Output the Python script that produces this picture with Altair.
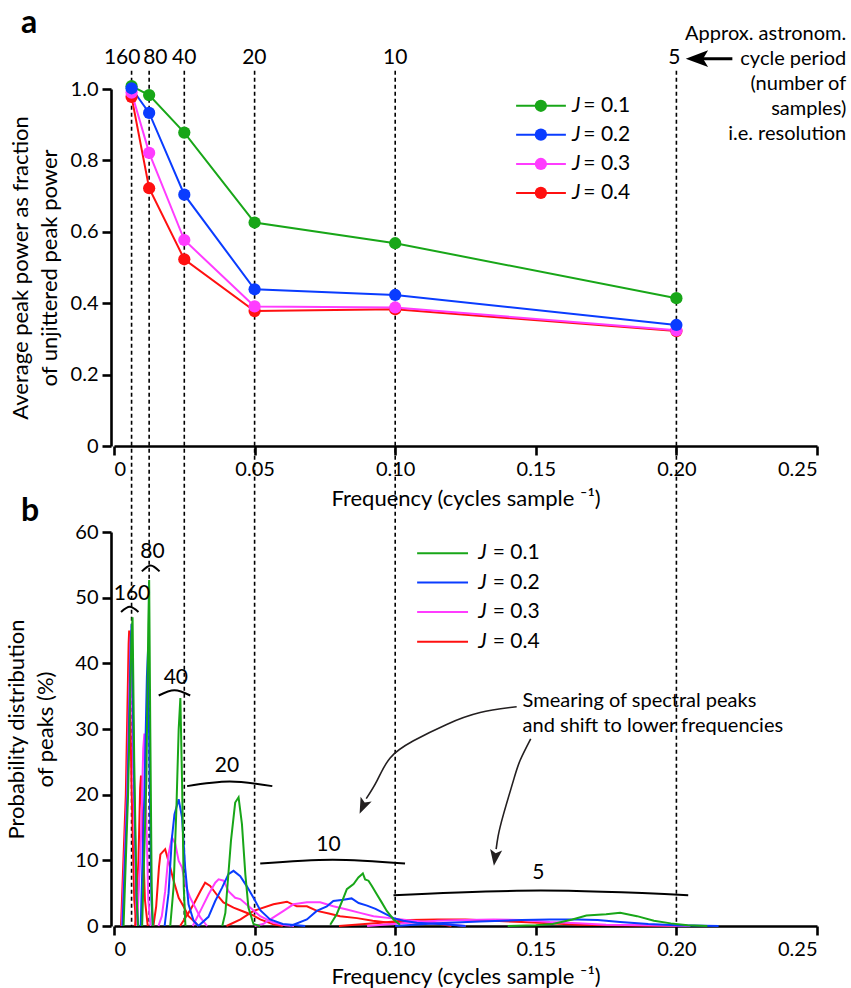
import altair as alt
import pandas as pd

FONT = "Lato"

# ---------------- shared categories ----------------
J_NAMES = ["J = 0.1", "J = 0.2", "J = 0.3", "J = 0.4"]
J_RHS = ["= 0.1", "= 0.2", "= 0.3", "= 0.4"]
J_COLORS = ["#18a618", "#0a3cff", "#ff3cff", "#ff1010"]

# ---------------- panel a data ----------------
FREQS = [0.00625, 0.0125, 0.025, 0.05, 0.10, 0.20]
PERIODS = ["160", "80", "40", "20", "10", "5"]
PERIOD_LABEL_X = [0.0029, 0.0147, 0.0250, 0.0499, 0.1000, 0.1993]
POWER_J1 = [1.008, 0.983, 0.878, 0.626, 0.568, 0.414]
POWER_J2 = [1.002, 0.933, 0.704, 0.439, 0.423, 0.339]
POWER_J3 = [0.990, 0.821, 0.577, 0.391, 0.388, 0.324]
POWER_J4 = [0.978, 0.722, 0.523, 0.378, 0.383, 0.322]

# ---------------- panel b data (one hump per J and period) ----------------
G160_F = [0.0034, 0.0050, 0.0062, 0.0066, 0.0072, 0.0080, 0.0085]
G160_Y = [0, 20, 44, 47, 25, 5, 0]
G80_F = [0.0100, 0.0115, 0.0122, 0.0125, 0.0129, 0.0134, 0.0138]
G80_Y = [0, 22, 46, 52.7, 30, 6, 0]
G40_F = [0.0200, 0.0212, 0.0222, 0.0230, 0.0236, 0.0242, 0.0248, 0.0254]
G40_Y = [0, 6, 18, 30, 34.7, 22, 6, 0]
G20_F = [0.0385, 0.0396, 0.0404, 0.0416, 0.0431, 0.0443, 0.0455, 0.0467, 0.0478, 0.0496, 0.0520]
G20_Y = [0, 2, 6.4, 13.0, 18.8, 19.6, 15.5, 7.9, 2.8, 0.3, 0]
G10_F = [0.0769, 0.0792, 0.0816, 0.0828, 0.0852, 0.0869, 0.0885, 0.0893, 0.0905, 0.0917, 0.0935, 0.0952, 0.0970, 0.0994, 0.1017]
G10_Y = [0.2, 1.8, 4.3, 5.6, 6.4, 7.4, 8.0, 7.1, 6.9, 6.1, 4.8, 3.6, 2.3, 1.0, 0.2]
G5_F = [0.140, 0.150, 0.156, 0.163, 0.168, 0.175, 0.180, 0.186, 0.192, 0.198, 0.204, 0.211]
G5_Y = [0, 0.1, 0.3, 1.0, 1.6, 1.8, 2.0, 1.5, 0.8, 0.4, 0.1, 0]

B160_F = [0.0030, 0.0048, 0.0060, 0.0063, 0.0070, 0.0080, 0.0086]
B160_Y = [0, 20, 44, 46, 25, 4, 0]
B80_F = [0.0095, 0.0108, 0.0117, 0.0121, 0.0127, 0.0133, 0.0138]
B80_Y = [0, 20, 38, 42, 22, 4, 0]
B40_F = [0.0180, 0.0194, 0.0206, 0.0215, 0.0230, 0.0242, 0.0253, 0.0265, 0.0283, 0.0300]
B40_Y = [0, 5, 13.4, 17, 19.3, 16.5, 8.9, 3.3, 0.8, 0]
B20_F = [0.0300, 0.0336, 0.0360, 0.0384, 0.0407, 0.0425, 0.0449, 0.0473, 0.0496, 0.0520, 0.0555, 0.0600, 0.0650, 0.0680]
B20_Y = [0, 1.4, 3.8, 5.8, 7.9, 8.4, 7.6, 6.0, 4.3, 2.4, 1.0, 0.3, 0.1, 0]
B10_F = [0.0627, 0.0686, 0.0721, 0.0757, 0.0780, 0.0816, 0.0845, 0.0870, 0.0900, 0.0930, 0.0958, 0.0994, 0.1029, 0.1077, 0.1160, 0.1250]
B10_Y = [0, 1.0, 2.3, 3.0, 3.8, 4.0, 4.2, 3.5, 3.1, 2.6, 2.0, 1.2, 0.8, 0.5, 0.3, 0]
B5_F = [0.100, 0.115, 0.130, 0.145, 0.155, 0.165, 0.172, 0.180, 0.190, 0.200, 0.215]
B5_Y = [0, 0.4, 0.7, 0.9, 1.0, 1.0, 0.9, 0.6, 0.3, 0.1, 0]

M160_F = [0.0028, 0.0046, 0.0058, 0.0061, 0.0068, 0.0078, 0.0084]
M160_Y = [0, 20, 43, 45, 24, 4, 0]
M80_F = [0.0082, 0.0095, 0.0104, 0.0108, 0.0114, 0.0122, 0.0130]
M80_Y = [0, 12, 27, 29.3, 18, 4, 0]
M40_F = [0.0158, 0.0170, 0.0182, 0.0194, 0.0206, 0.0218, 0.0230, 0.0242, 0.0253, 0.0271, 0.0289, 0.0307, 0.0331]
M40_Y = [0, 1.5, 5.3, 10.9, 13.5, 12.5, 9.9, 8.9, 6.4, 4.3, 2.8, 1.3, 0]
M20_F = [0.0280, 0.0313, 0.0336, 0.0360, 0.0372, 0.0390, 0.0407, 0.0431, 0.0449, 0.0484, 0.0520, 0.0567, 0.0610, 0.0640]
M20_Y = [0, 2.8, 4.8, 6.6, 7.1, 6.9, 5.3, 4.3, 4.1, 2.8, 1.5, 0.5, 0.1, 0]
M10_F = [0.0500, 0.0530, 0.0567, 0.0603, 0.0638, 0.0686, 0.0733, 0.0780, 0.0828, 0.0875, 0.0923, 0.0982, 0.1040, 0.1160, 0.1250]
M10_Y = [0, 0.3, 1.3, 2.3, 3.3, 3.6, 3.6, 3.0, 2.5, 2.0, 1.5, 1.2, 0.9, 0.4, 0]
M5_F = [0.090, 0.105, 0.115, 0.125, 0.135, 0.145, 0.155, 0.165, 0.175, 0.190, 0.205]
M5_Y = [0, 0.5, 0.8, 0.9, 1.0, 0.9, 0.6, 0.4, 0.2, 0.1, 0]

R160_F = [0.0025, 0.0042, 0.0052, 0.0054, 0.0062, 0.0072, 0.0080]
R160_Y = [0, 20, 43, 45, 22, 4, 0]
R80_F = [0.0075, 0.0087, 0.0093, 0.0096, 0.0102, 0.0110, 0.0120]
R80_Y = [0, 10, 21, 22.9, 14, 4, 0]
R40_F = [0.0140, 0.0150, 0.0160, 0.0165, 0.0182, 0.0200, 0.0212, 0.0230, 0.0247, 0.0265, 0.0283, 0.0300]
R40_Y = [0, 3, 9.0, 10.9, 11.7, 8.9, 6.9, 4.3, 3.0, 1.5, 0.8, 0]
R20_F = [0.0235, 0.0247, 0.0265, 0.0283, 0.0307, 0.0324, 0.0342, 0.0365, 0.0389, 0.0425, 0.0460, 0.0496, 0.0520, 0.0567, 0.0600]
R20_Y = [0, 0.8, 2.0, 3.3, 5.3, 6.6, 6.1, 4.8, 3.6, 2.8, 2.2, 1.6, 1.0, 0.25, 0]
R10_F = [0.0400, 0.0450, 0.0496, 0.0567, 0.0615, 0.0650, 0.0686, 0.0722, 0.0764, 0.0804, 0.0864, 0.0920, 0.0980, 0.1040, 0.1100, 0.1160, 0.1200]
R10_Y = [0, 1.0, 2.3, 3.3, 3.7, 3.0, 3.0, 2.3, 1.9, 1.5, 1.2, 0.8, 0.5, 0.6, 0.5, 0.3, 0]
R5_F = [0.080, 0.095, 0.105, 0.115, 0.125, 0.135, 0.145, 0.155, 0.165, 0.180, 0.200]
R5_Y = [0, 0.5, 0.9, 1.0, 1.0, 0.8, 0.6, 0.4, 0.2, 0.1, 0]

# ---------------- annotations ----------------
BRACKET_LABELS = ["160", "80", "40", "20", "10", "5"]
BRACKET_LEFT = [0.0025, 0.0099, 0.0159, 0.0260, 0.0520, 0.0994]
BRACKET_RIGHT = [0.0087, 0.0162, 0.0271, 0.0563, 0.1035, 0.2042]
BRACKET_END_Y = [47.8, 54.0, 35.1, 21.3, 9.5, 4.7]
BRACKET_MID_Y = [48.6, 54.9, 35.9, 22.0, 10.1, 5.4]
BRACKET_TEXT_X = [0.0064, 0.0137, 0.0220, 0.0402, 0.0763, 0.1509]
BRACKET_TEXT_Y = [50.5, 56.9, 37.8, 24.3, 12.4, 8.1]

ANNOT_A_LINES = ["Approx. astronom.", "cycle period", "(number of", "samples)", "i.e. resolution"]
ANNOT_A_Y = [1.155, 1.085, 1.015, 0.945, 0.875]
ANNOT_A_X = 0.2604
ARROW_A_X = [0.2080, 0.2199]
ARROW_A_Y = 1.085
ARROW_A_HEAD_X = 0.2073

SMEAR_LINES = ["Smearing of spectral peaks", "and shift to lower frequencies"]
SMEAR_Y = [34.2, 30.5]
SMEAR_X = 0.1453
ARROW1_F = [0.1432, 0.1302, 0.1183, 0.1065, 0.0982, 0.0935, 0.0897]
ARROW1_Y = [33.4, 32.5, 30.7, 28.2, 25.6, 22.1, 19.4]
ARROW2_F = [0.1482, 0.1444, 0.1420, 0.1385, 0.1366, 0.1359]
ARROW2_Y = [28.5, 25.2, 22.1, 17.0, 13.7, 11.7]
HEAD_F = [0.0885, 0.1355]
HEAD_Y = [18.2, 10.4]
HEAD_ANGLE = [24, 8]

LEG_A_Y = [0.953, 0.872, 0.790, 0.709]
LEG_A_X = [0.1430, 0.1607, 0.1518, 0.1629, 0.1669]  # line start, line end, dot, "J", "= v"
LEG_B_Y = [56.75, 52.3, 47.8, 43.3]
LEG_B_X = [0.1078, 0.1259, 0.1295, 0.1347]

# ---------------- layout ----------------
W = 703
HA = 357
HB = 394
GAP = 86

color_scale = alt.Scale(domain=J_NAMES, range=J_COLORS)
xscale = alt.Scale(domain=[0, 0.25], nice=False, zero=False)
x_labels = "datum.value == 0 ? '0' : format(datum.value, '.2f')"
x_title = "Frequency (cycles sample \u207b\u00b9)"

xaxis_a = alt.Axis(values=[0, 0.05, 0.10, 0.15, 0.20, 0.25], labelExpr=x_labels,
                   title=x_title, titlePadding=9)
xaxis_b = alt.Axis(values=[0, 0.05, 0.10, 0.15, 0.20, 0.25], labelExpr=x_labels,
                   title=x_title, titlePadding=7)


def XA(field):
    return alt.X(field, type="quantitative", scale=xscale, axis=xaxis_a)


def XB(field):
    return alt.X(field, type="quantitative", scale=xscale, axis=xaxis_b)


def COL():
    return alt.Color("J:N", scale=color_scale, legend=None)


# ----- panel a -----
ya_scale = alt.Scale(domain=[0, 1], nice=False, zero=False)
ya_axis = alt.Axis(values=[0, 0.2, 0.4, 0.6, 0.8, 1.0],
                   labelExpr="datum.value == 0 ? '0' : format(datum.value, '.1f')",
                   title=["Average peak power as fraction", "of unjittered peak power"],
                   titlePadding=9, titleLineHeight=29, offset=3)


def YA(field):
    return alt.Y(field, type="quantitative", scale=ya_scale, axis=ya_axis)


rows = []
for name, vals in zip(J_NAMES, [POWER_J1, POWER_J2, POWER_J3, POWER_J4]):
    for f, v in zip(FREQS, vals):
        rows.append({"f": f, "v": v, "J": name})
df_a = pd.DataFrame(rows)
draw_order = ["J = 0.1", "J = 0.4", "J = 0.3", "J = 0.2"]
df_a["k"] = df_a["J"].map({n: i for i, n in enumerate(draw_order)})
df_a = df_a.sort_values(["k", "f"])

df_rules = pd.DataFrame({"f": FREQS, "p": PERIODS, "lx": PERIOD_LABEL_X,
                         "ytop": 1.051, "ylab": 1.088})

rules = alt.Chart(df_rules).mark_rule(color="black", strokeWidth=1.6, strokeDash=[4, 3]).encode(
    x=XA("f"), y=YA("ytop"), y2=alt.value(HA + GAP + HB))
top_labels = alt.Chart(df_rules).mark_text(font=FONT, fontSize=21, baseline="middle", color="black").encode(
    x=XA("lx"), y=YA("ylab"), text="p:N")

lines_a = alt.Chart(df_a).mark_line(strokeWidth=2).encode(x=XA("f"), y=YA("v"), color=COL())
pts_a = alt.Chart(df_a).mark_circle(size=150, opacity=1).encode(x=XA("f"), y=YA("v"), color=COL())

leg_a = pd.DataFrame({"J": J_NAMES, "rhs": J_RHS, "y": LEG_A_Y,
                      "x1": LEG_A_X[0], "x2": LEG_A_X[1], "xd": LEG_A_X[2],
                      "xj": LEG_A_X[3], "xr": LEG_A_X[4], "jt": "J"})
leg_a_line = alt.Chart(leg_a).mark_rule(strokeWidth=2).encode(
    x=XA("x1"), x2="x2", y=YA("y"), color=COL())
leg_a_dot = alt.Chart(leg_a).mark_circle(size=150, opacity=1).encode(
    x=XA("xd"), y=YA("y"), color=COL())
leg_a_j = alt.Chart(leg_a).mark_text(font=FONT, fontSize=21, fontStyle="italic", align="left",
                                     baseline="middle", color="black").encode(
    x=XA("xj"), y=YA("y"), text="jt:N")
leg_a_r = alt.Chart(leg_a).mark_text(font=FONT, fontSize=21, align="left",
                                     baseline="middle", color="black").encode(
    x=XA("xr"), y=YA("y"), text="rhs:N")

annot_a = alt.Chart(pd.DataFrame({"t": ANNOT_A_LINES, "y": ANNOT_A_Y, "x": ANNOT_A_X})).mark_text(
    font=FONT, fontSize=20, align="right", baseline="middle", color="black").encode(
    x=XA("x"), y=YA("y"), text="t:N")
arrow_a = alt.Chart(pd.DataFrame({"x1": [ARROW_A_X[0]], "x2": [ARROW_A_X[1]], "y": [ARROW_A_Y]})).mark_rule(
    color="black", strokeWidth=3).encode(x=XA("x1"), x2="x2", y=YA("y"))
arrow_a_head = alt.Chart(pd.DataFrame({"x": [ARROW_A_HEAD_X], "y": [ARROW_A_Y]})).mark_point(
    shape="M-1,0L1,-0.75L0.55,0L1,0.75Z", filled=True, size=500, color="black", opacity=1).encode(
    x=XA("x"), y=YA("y"))
letter_a = alt.Chart(pd.DataFrame({"t": ["a"]})).mark_text(
    font=FONT, fontSize=32, fontWeight="bold", align="left", baseline="alphabetic", color="black").encode(
    x=alt.value(-93), y=alt.value(-56.5), text="t:N")

panel_a = alt.layer(rules, lines_a, pts_a, top_labels, leg_a_line, leg_a_dot, leg_a_j, leg_a_r,
                    annot_a, arrow_a, arrow_a_head, letter_a).properties(width=W, height=HA)

# ----- panel b -----
yb_scale = alt.Scale(domain=[0, 60], nice=False, zero=False)
yb_axis = alt.Axis(values=[0, 10, 20, 30, 40, 50, 60], title=["Probability distribution", "of peaks (%)"],
                   titlePadding=17, titleLineHeight=29, offset=3)


def YB(field):
    return alt.Y(field, type="quantitative", scale=yb_scale, axis=yb_axis)


humps = [
    ("J = 0.4", [(R160_F, R160_Y), (R80_F, R80_Y), (R40_F, R40_Y), (R20_F, R20_Y), (R10_F, R10_Y), (R5_F, R5_Y)]),
    ("J = 0.3", [(M160_F, M160_Y), (M80_F, M80_Y), (M40_F, M40_Y), (M20_F, M20_Y), (M10_F, M10_Y), (M5_F, M5_Y)]),
    ("J = 0.2", [(B160_F, B160_Y), (B80_F, B80_Y), (B40_F, B40_Y), (B20_F, B20_Y), (B10_F, B10_Y), (B5_F, B5_Y)]),
    ("J = 0.1", [(G160_F, G160_Y), (G80_F, G80_Y), (G40_F, G40_Y), (G20_F, G20_Y), (G10_F, G10_Y), (G5_F, G5_Y)]),
]
rows = []
for name, hl in humps:
    for p, (fs, ys) in zip(PERIODS, hl):
        for i, (f, y) in enumerate(zip(fs, ys)):
            rows.append({"f": f, "y": y, "J": name, "key": name + "_" + p, "i": i})
df_b = pd.DataFrame(rows)

lines_b = alt.Chart(df_b).mark_line(strokeWidth=2).encode(
    x=XB("f"), y=YB("y"), color=COL(), detail="key:N", order="i:Q")

brows = []
for lab, l, r, ye, ym in zip(BRACKET_LABELS, BRACKET_LEFT, BRACKET_RIGHT, BRACKET_END_Y, BRACKET_MID_Y):
    brows.append({"b": lab, "f": l, "y": ye, "i": 0})
    brows.append({"b": lab, "f": (l + r) / 2, "y": ym, "i": 1})
    brows.append({"b": lab, "f": r, "y": ye, "i": 2})
brackets = alt.Chart(pd.DataFrame(brows)).mark_line(color="black", strokeWidth=2, interpolate="natural").encode(
    x=XB("f"), y=YB("y"), detail="b:N", order="i:Q")
bracket_text = alt.Chart(pd.DataFrame({"t": BRACKET_LABELS, "f": BRACKET_TEXT_X, "y": BRACKET_TEXT_Y})).mark_text(
    font=FONT, fontSize=21, baseline="middle", color="black").encode(x=XB("f"), y=YB("y"), text="t:N")

arows = []
for i, (f, y) in enumerate(zip(ARROW1_F, ARROW1_Y)):
    arows.append({"a": "1", "f": f, "y": y, "i": i})
for i, (f, y) in enumerate(zip(ARROW2_F, ARROW2_Y)):
    arows.append({"a": "2", "f": f, "y": y, "i": i})
arrows_b = alt.Chart(pd.DataFrame(arows)).mark_line(color="#231f20", strokeWidth=1.6, interpolate="natural").encode(
    x=XB("f"), y=YB("y"), detail="a:N", order="i:Q")
heads_b = alt.Chart(pd.DataFrame({"f": HEAD_F, "y": HEAD_Y, "ang": HEAD_ANGLE})).mark_point(
    shape="M0,1L-0.75,-1L0,-0.55L0.75,-1Z", filled=True, size=260, color="#231f20", opacity=1).encode(
    x=XB("f"), y=YB("y"), angle=alt.Angle("ang:Q", scale=None))
smear = alt.Chart(pd.DataFrame({"t": SMEAR_LINES, "y": SMEAR_Y, "f": SMEAR_X})).mark_text(
    font=FONT, fontSize=20, align="left", baseline="middle", color="black").encode(
    x=XB("f"), y=YB("y"), text="t:N")

leg_b = pd.DataFrame({"J": J_NAMES, "rhs": J_RHS, "y": LEG_B_Y, "x1": LEG_B_X[0], "x2": LEG_B_X[1],
                      "xj": LEG_B_X[2], "xr": LEG_B_X[3], "jt": "J"})
leg_b_line = alt.Chart(leg_b).mark_rule(strokeWidth=2).encode(
    x=XB("x1"), x2="x2", y=YB("y"), color=COL())
leg_b_j = alt.Chart(leg_b).mark_text(font=FONT, fontSize=21, fontStyle="italic", align="left",
                                     baseline="middle", color="black").encode(
    x=XB("xj"), y=YB("y"), text="jt:N")
leg_b_r = alt.Chart(leg_b).mark_text(font=FONT, fontSize=21, align="left",
                                     baseline="middle", color="black").encode(
    x=XB("xr"), y=YB("y"), text="rhs:N")
letter_b = alt.Chart(pd.DataFrame({"t": ["b"]})).mark_text(
    font=FONT, fontSize=32, fontWeight="bold", align="left", baseline="alphabetic", color="black").encode(
    x=alt.value(-93), y=alt.value(-11), text="t:N")

panel_b = alt.layer(lines_b, brackets, bracket_text, arrows_b, heads_b, smear,
                    leg_b_line, leg_b_j, leg_b_r, letter_b).properties(width=W, height=HB)

chart = alt.vconcat(panel_a, panel_b, spacing=GAP, bounds="flush").properties(
    padding={"left": 5, "top": 6, "right": 2, "bottom": 2}, background="white"
).configure_view(stroke=None).configure_axis(
    grid=False, domainColor="black", domainWidth=2.6, tickColor="black", tickWidth=2.6, tickSize=9,
    labelFont=FONT, labelFontSize=20, labelColor="black", labelPadding=4,
    titleFont=FONT, titleFontSize=22, titleFontWeight="normal", titleColor="black"
)

chart.save("out.html", embed_options={"renderer": "svg", "actions": False})
